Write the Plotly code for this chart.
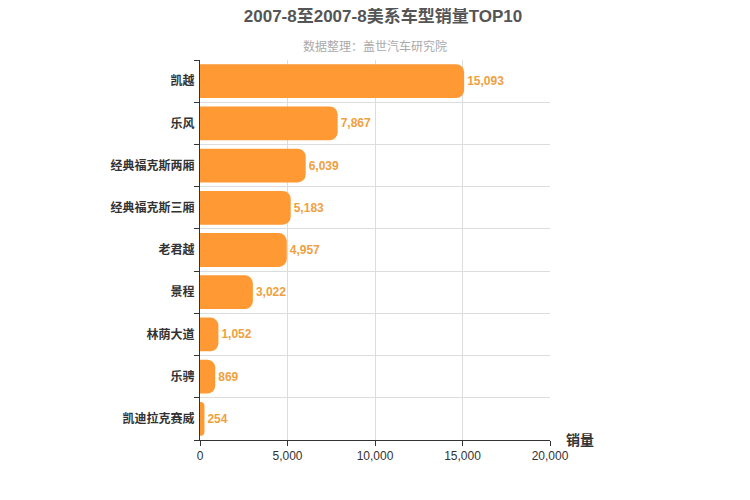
import plotly.graph_objects as go

categories = ["凯越", "乐风", "经典福克斯两厢", "经典福克斯三厢", "老君越", "景程", "林荫大道", "乐骋", "凯迪拉克赛威"]
sales = [15093, 7867, 6039, 5183, 4957, 3022, 1052, 869, 254]
x_ticks = [0, 5000, 10000, 15000, 20000]
x_tick_labels = ["0", "5,000", "10,000", "15,000", "20,000"]

orange = "#FF9933"
fig = go.Figure(go.Bar(
    x=sales, y=categories, orientation="h",
    marker=dict(color=orange, cornerradius=8, line=dict(width=0)),
    text=[f"<b>{v:,}</b>" for v in sales], textposition="outside",
    textfont=dict(color="#F0A040", size=12, family="Arial, Liberation Sans"),
    cliponaxis=False,
))
fig.update_layout(
    width=750, height=500, plot_bgcolor="white", paper_bgcolor="white",
    margin=dict(l=192, r=208, t=52, b=68),
    bargap=0.2, showlegend=False,
    font=dict(family="Arial, Liberation Sans, Noto Sans CJK SC"),
    title=dict(text="<b>2007-8至2007-8美系车型销量TOP10</b>", x=0.5, xanchor="center",
               y=0.995, yanchor="top", font=dict(size=17, color="#555555")),
    annotations=[
        dict(text="数据整理：盖世汽车研究院", x=0.5, xref="paper", y=1.0, yref="paper",
             showarrow=False, font=dict(size=12, color="#AAAAAA"), xanchor="center",
             yanchor="bottom", yshift=4),
        dict(text="<b>销量</b>", xref="paper", yref="paper", x=1.04, y=0, xanchor="left",
             yanchor="middle", showarrow=False, font=dict(size=14, color="#333333")),
    ],
)
fig.update_xaxes(range=[0, 20000], tickvals=x_ticks, ticktext=x_tick_labels,
                 showgrid=True, gridcolor="#DDDDDD", zeroline=False,
                 showline=True, linecolor="#333333", ticks="outside", ticklen=5,
                 tickcolor="#333333", tickfont=dict(size=12, color="#333333"))
fig.update_yaxes(categoryorder="array", categoryarray=categories[::-1],
                 showgrid=True, gridcolor="#DDDDDD", tickson="boundaries",
                 showline=True, linecolor="#333333", ticks="outside", ticklen=5,
                 tickcolor="#333333", tickfont=dict(size=12, color="#333333"),
                 ticklabelstandoff=2)
fig.update_yaxes(ticktext=[f"<b>{c}</b>" for c in categories[::-1]],
                 tickvals=categories[::-1])
fig.write_html("out.html")
